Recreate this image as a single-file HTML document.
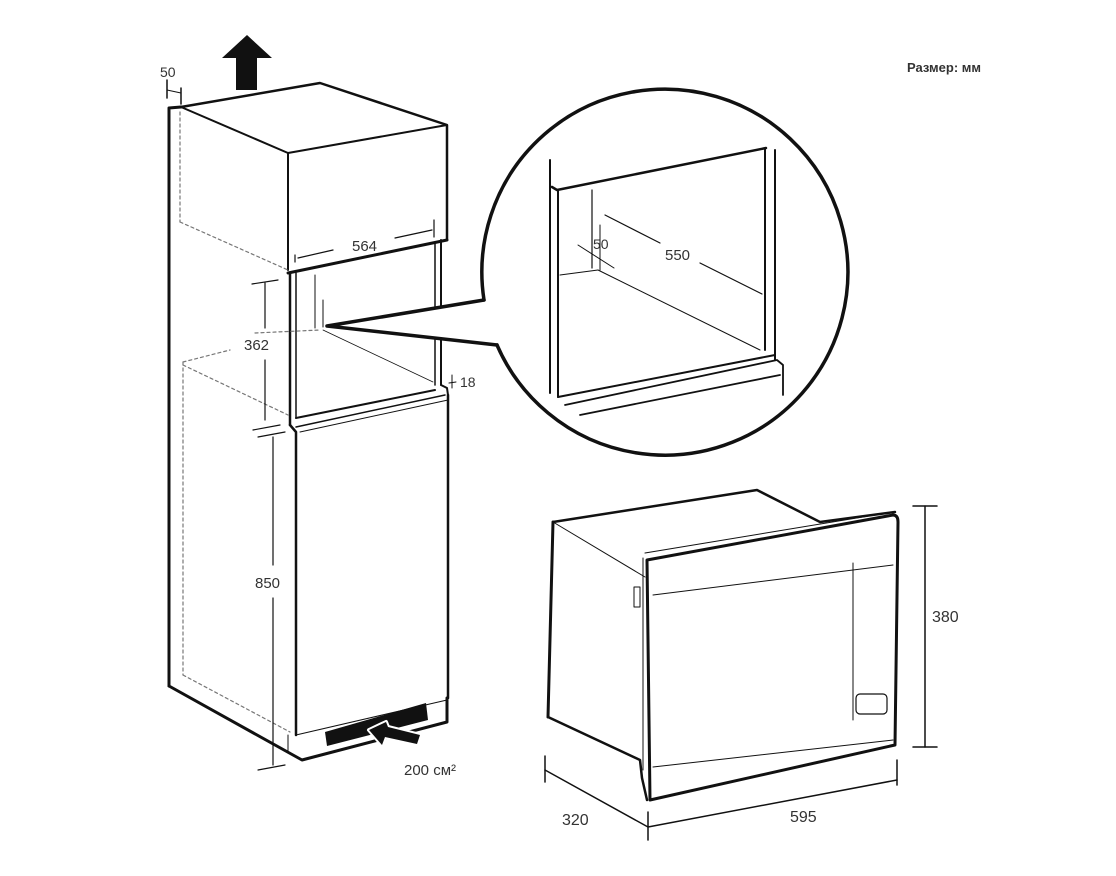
<!DOCTYPE html>
<html><head><meta charset="utf-8"><style>
html,body{margin:0;padding:0;background:#fff;}
svg{display:block;}
text{font-family:"Liberation Sans",sans-serif;fill:#333;}
</style></head><body>
<svg width="1116" height="876" viewBox="0 0 1116 876" xmlns="http://www.w3.org/2000/svg">
<g fill="none" stroke="#111" stroke-linecap="round" stroke-linejoin="round">
<polygon points="236,90 257,90 257,58 272,58 247,35 222,58 236,58" fill="#111" stroke="none"/>
<line x1="167" y1="80" x2="167" y2="98" stroke-width="1.5"/>
<line x1="181" y1="88" x2="181" y2="104" stroke-width="1.5"/>
<line x1="167" y1="90" x2="181" y2="93" stroke-width="1"/>
<polyline points="169,686 169,108 181,107" stroke-width="3"/>
<polyline points="181,107 320,83 447,125 447,240" stroke-width="2.5"/>
<polyline points="181,107 288,153 447,125" stroke-width="2"/>
<line x1="288" y1="153" x2="288" y2="270" stroke-width="2"/>
<line x1="288" y1="273" x2="447" y2="240" stroke-width="3"/>
<line x1="290" y1="273" x2="290" y2="425" stroke-width="2.5"/>
<line x1="296" y1="273" x2="296" y2="418" stroke-width="1.5"/>
<line x1="435" y1="242" x2="435" y2="385" stroke-width="1.5"/>
<line x1="441" y1="240" x2="441" y2="385" stroke-width="2"/>
<line x1="296" y1="418" x2="435" y2="390" stroke-width="2"/>
<line x1="296" y1="427" x2="445" y2="395" stroke-width="1.5"/>
<line x1="300" y1="432" x2="448" y2="400" stroke-width="1"/>
<line x1="315" y1="275" x2="315" y2="328" stroke-width="1"/>
<line x1="323" y1="300" x2="323" y2="327" stroke-width="1"/>
<line x1="323" y1="330" x2="433" y2="382" stroke-width="0.8"/>
<polyline points="441,385 447,388 448,395" stroke-width="2"/>
<polyline points="290,425 296,432 296,735" stroke-width="2.5"/>
<line x1="448" y1="395" x2="448" y2="698" stroke-width="2.5"/>
<polyline points="169,686 302,760 447,722 447,698" stroke-width="3"/>
<line x1="296" y1="735" x2="447" y2="700" stroke-width="1"/>
<line x1="288" y1="735" x2="288" y2="752" stroke-width="1"/>
<polygon points="325,732 426,703 428,720 327,746" fill="#111" stroke="none"/>
<polygon points="369,730 386,722 388,727 420,735 417,744 385,737 382,745" fill="#fff" stroke="#fff" stroke-width="4"/>
<polygon points="369,730 386,722 388,727 420,735 417,744 385,737 382,745" fill="#111" stroke="none"/>
<g stroke="#777" stroke-width="1.2" stroke-dasharray="3,3">
<line x1="180" y1="112" x2="180" y2="222"/>
<line x1="180" y1="222" x2="288" y2="270"/>
<line x1="183" y1="362" x2="183" y2="675"/>
<line x1="183" y1="362" x2="230" y2="350"/>
<line x1="183" y1="365" x2="288" y2="415"/>
<line x1="183" y1="675" x2="290" y2="732"/>
<line x1="255" y1="333" x2="320" y2="330"/>
<line x1="500" y1="292" x2="555" y2="275"/>
</g>
<line x1="295" y1="255" x2="295" y2="262" stroke-width="1.2"/>
<line x1="434" y1="220" x2="434" y2="237" stroke-width="1.2"/>
<line x1="298" y1="258" x2="333" y2="250" stroke-width="1.2"/>
<line x1="395" y1="238" x2="432" y2="230" stroke-width="1.2"/>
<line x1="252" y1="284" x2="278" y2="280" stroke-width="1.2"/>
<line x1="265" y1="283" x2="265" y2="328" stroke-width="1.2"/>
<line x1="265" y1="360" x2="265" y2="420" stroke-width="1.2"/>
<line x1="253" y1="430" x2="280" y2="425" stroke-width="1.2"/>
<line x1="258" y1="437" x2="285" y2="432" stroke-width="1.2"/>
<line x1="273" y1="437" x2="273" y2="565" stroke-width="1.2"/>
<line x1="273" y1="598" x2="273" y2="765" stroke-width="1.2"/>
<line x1="258" y1="770" x2="285" y2="765" stroke-width="1.2"/>
<line x1="452" y1="375" x2="452" y2="388" stroke-width="1"/>
<line x1="449" y1="383" x2="456" y2="382" stroke-width="1"/>
<path d="M327,326 L484,300 A183,183 0 1 1 497,345 Z" fill="#fff" stroke="none"/>
<path d="M327,326 L484,300 M327,326 L497,345" stroke-width="3.5"/>
<path d="M484,300 A183,183 0 1 1 497,345" stroke-width="3.5"/>
<line x1="550" y1="160" x2="550" y2="393" stroke-width="2"/>
<polyline points="552,187 557,190 766,148" stroke-width="2.5"/>
<line x1="558" y1="190" x2="558" y2="397" stroke-width="2"/>
<line x1="765" y1="148" x2="765" y2="350" stroke-width="2"/>
<line x1="775" y1="150" x2="775" y2="360" stroke-width="2"/>
<line x1="592" y1="190" x2="592" y2="268" stroke-width="1.2"/>
<line x1="560" y1="275" x2="598" y2="270" stroke-width="1"/>
<line x1="598" y1="270" x2="760" y2="350" stroke-width="1"/>
<line x1="558" y1="397" x2="775" y2="355" stroke-width="2"/>
<polyline points="565,405 777,360 783,365 783,395" stroke-width="1.8"/>
<line x1="580" y1="415" x2="780" y2="375" stroke-width="1.8"/>
<line x1="605" y1="215" x2="660" y2="243" stroke-width="1.2"/>
<line x1="700" y1="263" x2="762" y2="294" stroke-width="1.2"/>
<line x1="578" y1="245" x2="614" y2="268" stroke-width="1"/>
<line x1="600" y1="225" x2="600" y2="270" stroke-width="1"/>
<polyline points="553,522 757,490 820,522 895,512" stroke-width="2.5"/>
<line x1="553" y1="522" x2="548" y2="717" stroke-width="3"/>
<line x1="553" y1="522" x2="645" y2="577" stroke-width="1"/>
<polyline points="548,717 640,760 642,778 647,800" stroke-width="2.5"/>
<line x1="645" y1="553" x2="893" y2="512" stroke-width="1"/>
<line x1="643" y1="558" x2="643" y2="770" stroke-width="1"/>
<path d="M647,560 L893,515 Q898,515 898,522 L895,745 L650,800 Z" stroke-width="3"/>
<line x1="653" y1="595" x2="893" y2="565" stroke-width="1"/>
<line x1="653" y1="767" x2="893" y2="740" stroke-width="1"/>
<line x1="853" y1="563" x2="853" y2="720" stroke-width="1"/>
<rect x="856" y="694" width="31" height="20" rx="4" stroke-width="1.2"/>
<rect x="634" y="587" width="6" height="20" stroke-width="1"/>
<line x1="913" y1="506" x2="937" y2="506" stroke-width="1.5"/>
<line x1="925" y1="506" x2="925" y2="747" stroke-width="1.5"/>
<line x1="913" y1="747" x2="937" y2="747" stroke-width="1.5"/>
<line x1="545" y1="756" x2="545" y2="782" stroke-width="1.5"/>
<line x1="545" y1="770" x2="648" y2="827" stroke-width="1.5"/>
<line x1="648" y1="812" x2="648" y2="840" stroke-width="1.5"/>
<line x1="648" y1="827" x2="897" y2="780" stroke-width="1.5"/>
<line x1="897" y1="760" x2="897" y2="785" stroke-width="1.5"/>
</g>
<text x="907" y="72" font-size="13" font-weight="bold">Размер: мм</text>
<text x="160" y="77" font-size="14">50</text>
<text x="352" y="251" font-size="15">564</text>
<text x="244" y="350" font-size="15">362</text>
<text x="460" y="387" font-size="14">18</text>
<text x="255" y="588" font-size="15">850</text>
<text x="404" y="775" font-size="15">200 см²</text>
<text x="593" y="249" font-size="14">50</text>
<text x="665" y="260" font-size="15">550</text>
<text x="932" y="622" font-size="16">380</text>
<text x="562" y="825" font-size="16">320</text>
<text x="790" y="822" font-size="16">595</text>
</svg>
</body></html>
